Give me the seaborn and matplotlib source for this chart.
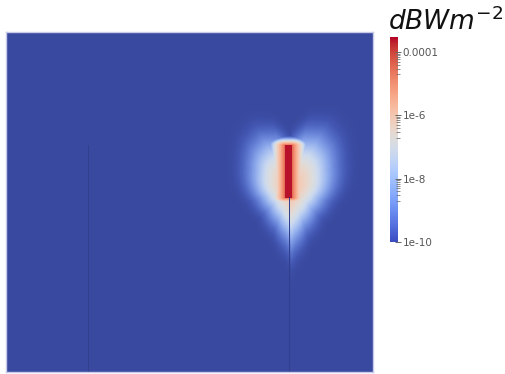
import numpy as np
import matplotlib
matplotlib.use("Agg")
import matplotlib.pyplot as plt
import matplotlib.colors as mcolors
import matplotlib.cm as cm
import seaborn as sns

# Size of the simulated plane (cells)
NX, NY = 367, 340

# Radiating element: column, first/last row, half width, level (W/m^2)
element_col = 282
element_rows = (113, 165)
element_halfwidth = 3
element_level = 2.5e-4

# Level at the element surface
surface_level = 5e-5

# Radiated glow: centre (column, row), level at the edge, decades above it
glow_centre = (284, 155)
edge_level = 1.3e-10
glow_span_decades = 4.0

# Reach of the glow from its centre (cells), per direction
# (degrees from horizontal, negative = upwards); the right side reaches further
reach_angle = [-90, -75, -60, -45, -25, 0, 20, 45, 70, 85, 90]
reach_cells = [60, 82, 90, 85, 72, 62, 54, 52, 63, 82, 92]
right_stretch = 1.07

# Thin conductors crossing the plane: column and starting row
wire_cols = [82, 283]
wire_rows = [113, 165]
wire_level = 5e-11

# Colour-bar range, labelled values and their labels
vmin, vmax = 1e-10, 3e-4
tick_values = [1e-10, 1e-8, 1e-6, 1e-4]
tick_labels = ["1e-10", "1e-8", "1e-6", "0.0001"]
minor_decades = [1e-5, 1e-7, 1e-9]

# ---- build the field ----
yy, xx = np.mgrid[0:NY, 0:NX].astype(float)

# radiated part, from the glow centre
gx = xx - glow_centre[0]
gy = yy - glow_centre[1]
r = np.hypot(gx, gy)
theta = np.degrees(np.arctan2(gy, np.abs(gx) + 1e-9))
reach = np.interp(theta, reach_angle, reach_cells)
reach = np.where(gx > 0, reach * right_stretch, reach)
d = np.clip(r / reach, 0, 1)
lo = np.log10(edge_level)
log_far = lo + glow_span_decades * (1 - d ** 1.7) ** 1.7

# near part, from the element surface (falls faster off its ends)
r0, r1 = element_rows
ex = np.clip(np.abs(xx - element_col) - element_halfwidth, 0, None)
ey = np.where(yy < r0, r0 - yy, np.where(yy > r1, yy - r1, 0.0))
log_near = np.log10(surface_level) - 0.24 * np.hypot(ex, 2.2 * ey)

plane = 10.0 ** np.maximum(log_far, log_near)

c0, c1 = element_col - element_halfwidth, element_col + element_halfwidth
plane[r0:r1 + 1, c0:c1 + 1] = element_level
for col, row in zip(wire_cols, wire_rows):
    plane[row:, col] = wire_level

# ---- colour maps: the surface is shaded a little darker than the bar ----
base = plt.get_cmap("coolwarm")
t = np.linspace(0, 1, 256)
samples = base(t)
shade = np.array([57, 73, 157, 255]) / 255.0
w = (np.clip(1 - t / 0.45, 0, 1) ** 1.3)[:, None]
surf = samples * (1 - w) + shade * w
surf_cmap = mcolors.ListedColormap(surf)
surf_cmap.set_under("#323f8c")

norm = mcolors.LogNorm(vmin=vmin, vmax=vmax)

# ---- figure ----
fig = plt.figure(figsize=(5.06, 3.74), dpi=100)
W, H = 506, 374
ax = fig.add_axes([6 / W, 1 - 372 / H, 367 / W, 340 / H])
sns.heatmap(plane, ax=ax, cmap=surf_cmap, norm=norm, cbar=False,
            xticklabels=False, yticklabels=False, rasterized=True)
for s in ax.spines.values():
    s.set_visible(True)
    s.set_color("#c9c9ea")
    s.set_linewidth(1.0)

cax = fig.add_axes([390 / W, 1 - 242 / H, 8 / W, 205 / H])
cb = fig.colorbar(cm.ScalarMappable(norm=norm, cmap=base), cax=cax)
cb.outline.set_visible(False)
cax.yaxis.set_ticks(tick_values)
cax.yaxis.set_ticklabels(tick_labels)
cax.yaxis.set_ticks([k * d for d in minor_decades for k in range(2, 10)], minor=True)
cax.tick_params(axis="y", which="major", direction="inout", length=5, width=0.7,
                color="#666666", labelsize=7.5, labelcolor="#555555", pad=1)
cax.tick_params(axis="y", which="minor", direction="inout", length=3, width=0.6,
                color="#777777")

fig.text(388 / W, 1 - 30 / H, r"$dBWm^{-2}$", fontsize=19, ha="left",
         va="baseline", color="#111111")

fig.savefig("out.png", dpi=100)
